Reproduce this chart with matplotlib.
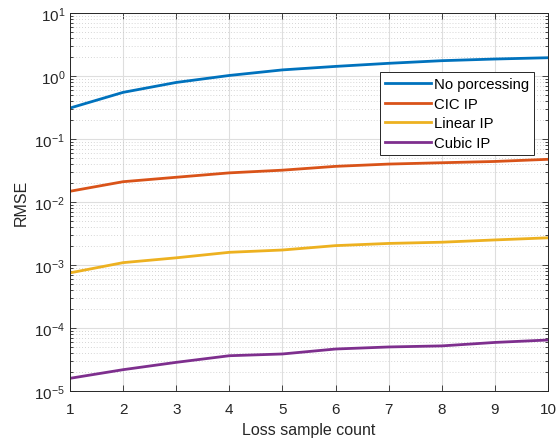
import matplotlib

matplotlib.use("Agg")

import matplotlib.pyplot as plt
from matplotlib.ticker import LogLocator, NullFormatter


LOSS_COUNTS = [1, 2, 3, 4, 5, 6, 7, 8, 9, 10]

NO_PROCESSING = [0.31, 0.55, 0.79, 1.02, 1.25, 1.42, 1.59, 1.75, 1.86, 1.95]
CIC_IP = [0.0148, 0.021, 0.0247, 0.029, 0.032, 0.0368, 0.040, 0.042, 0.044, 0.0476]
LINEAR_IP = [0.00075, 0.00109, 0.0013, 0.00159, 0.00173, 0.00203, 0.0022, 0.0023, 0.0025, 0.0027]
CUBIC_IP = [1.59e-5, 2.18e-5, 2.85e-5, 3.63e-5, 3.87e-5, 4.64e-5, 5.0e-5, 5.2e-5, 5.9e-5, 6.45e-5]

SERIES = [
    ("No porcessing", NO_PROCESSING, "#0072BD"),
    ("CIC IP", CIC_IP, "#D95319"),
    ("Linear IP", LINEAR_IP, "#EDB120"),
    ("Cubic IP", CUBIC_IP, "#7E2F8E"),
]


def main() -> None:
    plt.rcParams["font.family"] = ["Liberation Sans", "DejaVu Sans"]
    plt.rcParams["mathtext.fontset"] = "custom"
    plt.rcParams["mathtext.rm"] = "Liberation Sans"
    plt.rcParams["mathtext.it"] = "Liberation Sans"

    figure = plt.figure(figsize=(5.56, 4.39), dpi=100)
    axis = figure.add_axes([70 / 556, 47 / 439, 478 / 556, 378 / 439])

    for label, values, colour in SERIES:
        axis.plot(LOSS_COUNTS, values, color=colour, linewidth=2.0, label=label)

    axis.set_yscale("log")
    axis.set_xlim(1, 10)
    axis.set_ylim(1e-5, 1e1)
    axis.set_xticks(range(1, 11))

    axis.yaxis.set_major_locator(LogLocator(base=10, numticks=10))
    axis.yaxis.set_minor_locator(
        LogLocator(base=10, subs=[2, 3, 4, 5, 6, 7, 8, 9], numticks=20)
    )
    axis.yaxis.set_minor_formatter(NullFormatter())

    axis.grid(True, which="major", color="#dedede", linewidth=0.8, linestyle="-")
    axis.grid(
        True, which="minor", axis="y", color="#c8c8c8", linewidth=0.6, linestyle=(0, (1, 2.5))
    )
    axis.set_axisbelow(True)

    axis.tick_params(
        which="both", direction="in", top=True, right=True,
        labelsize=11, colors="#262626", width=0.6,
    )
    axis.tick_params(which="major", length=4)
    axis.tick_params(which="minor", length=2.5)
    axis.tick_params(axis="x", pad=8)

    for spine in axis.spines.values():
        spine.set_color("#262626")
        spine.set_linewidth(0.7)

    axis.set_xlabel("Loss sample count", fontsize=11.5, color="#262626", labelpad=4)
    axis.set_ylabel("RMSE", fontsize=11.5, color="#262626", labelpad=4)

    legend = axis.legend(
        loc="upper right",
        bbox_to_anchor=(0.971, 0.844),
        fontsize=10.7,
        frameon=True,
        fancybox=False,
        framealpha=1.0,
        edgecolor="#262626",
        handlelength=3.1,
        handletextpad=0.2,
        labelspacing=0.38,
        borderpad=0.35,
        borderaxespad=0,
    )
    legend.get_frame().set_linewidth(0.7)

    figure.savefig("out.png", dpi=100)
    plt.close(figure)


if __name__ == "__main__":
    main()
